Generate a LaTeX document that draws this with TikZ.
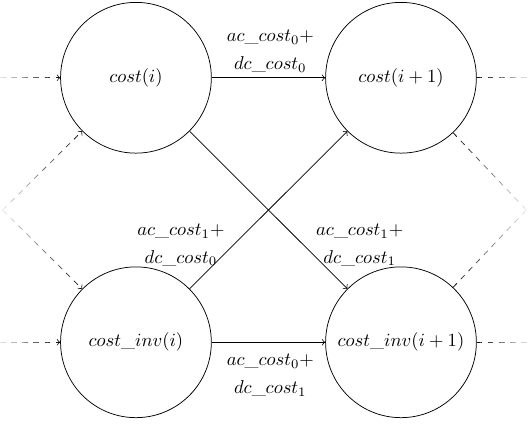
\documentclass[tikz,border=0pt]{standalone}
\usetikzlibrary{calc}
\newcommand\fadedraw[4]{%
  \foreach \k in {0,...,23}{%
    \pgfmathsetmacro\xa{#1+(#2-#1)*\k/24}%
    \pgfmathsetmacro\xb{#1+(#2-#1)*(\k+1)/24}%
    \pgfmathsetmacro\pc{10+90*\k/23}%
    \begin{scope}
      \clip (\xa,1) rectangle (\xb,-9);
      \draw[#3, black!\pc] #4;
    \end{scope}}}
\begin{document}
\begin{tikzpicture}[
  state/.style={draw, circle, minimum size=2.85cm, inner sep=0pt},
  lbl/.style={align=center, inner sep=0pt},
  arr/.style={->},
  dsh/.style={dashed}
]
\useasboundingbox (0,0) rectangle (10,-8);
\node[state] (a) at (2.57,-1.47) {$cost(i)$};
\node[state] (b) at (7.58,-1.47) {$cost(i+1)$};
\node[state] (c) at (2.57,-6.47) {$cost\_inv(i)$};
\node[state] (d) at (7.58,-6.47) {$cost\_inv(i+1)$};

\coordinate (la) at (0,-1.47);
\coordinate (lc) at (0,-6.47);
\coordinate (lm) at (0.05,-3.97);
\coordinate (rb) at (10,-1.47);
\coordinate (rd) at (10,-6.47);
\coordinate (rm) at (9.95,-3.97);

\draw[arr] (a) -- (b);
\draw[arr] (a) -- (d);
\draw[arr] (c) -- (b);
\draw[arr] (c) -- (d);

\fadedraw{-0.01}{1.2}{dsh,->}{(la) -- (a)}
\fadedraw{-0.01}{1.2}{dsh,->}{(lc) -- (c)}
\fadedraw{0.02}{1.65}{dsh,->}{(lm) -- (a)}
\fadedraw{0.02}{1.65}{dsh,->}{(lm) -- (c)}
\fadedraw{10.01}{8.95}{dsh}{(b) -- (rb)}
\fadedraw{10.01}{8.95}{dsh}{(d) -- (rd)}
\fadedraw{9.98}{8.5}{dsh}{(b) -- (rm)}
\fadedraw{9.98}{8.5}{dsh}{(d) -- (rm)}

\node[lbl] (t1) at (5.11,-0.97) {$ac\_cost_0+$\\[3pt]$dc\_cost_0$};
\node[lbl] (t2) at (5.11,-7.09) {$ac\_cost_0+$\\[3pt]$dc\_cost_1$};
\node[lbl] (t3) at (3.42,-4.63) {$ac\_cost_1+$\\[3pt]$dc\_cost_0$};
\node[lbl] (t4) at (6.80,-4.63) {$ac\_cost_1+$\\[3pt]$dc\_cost_1$};
\end{tikzpicture}
\end{document}
